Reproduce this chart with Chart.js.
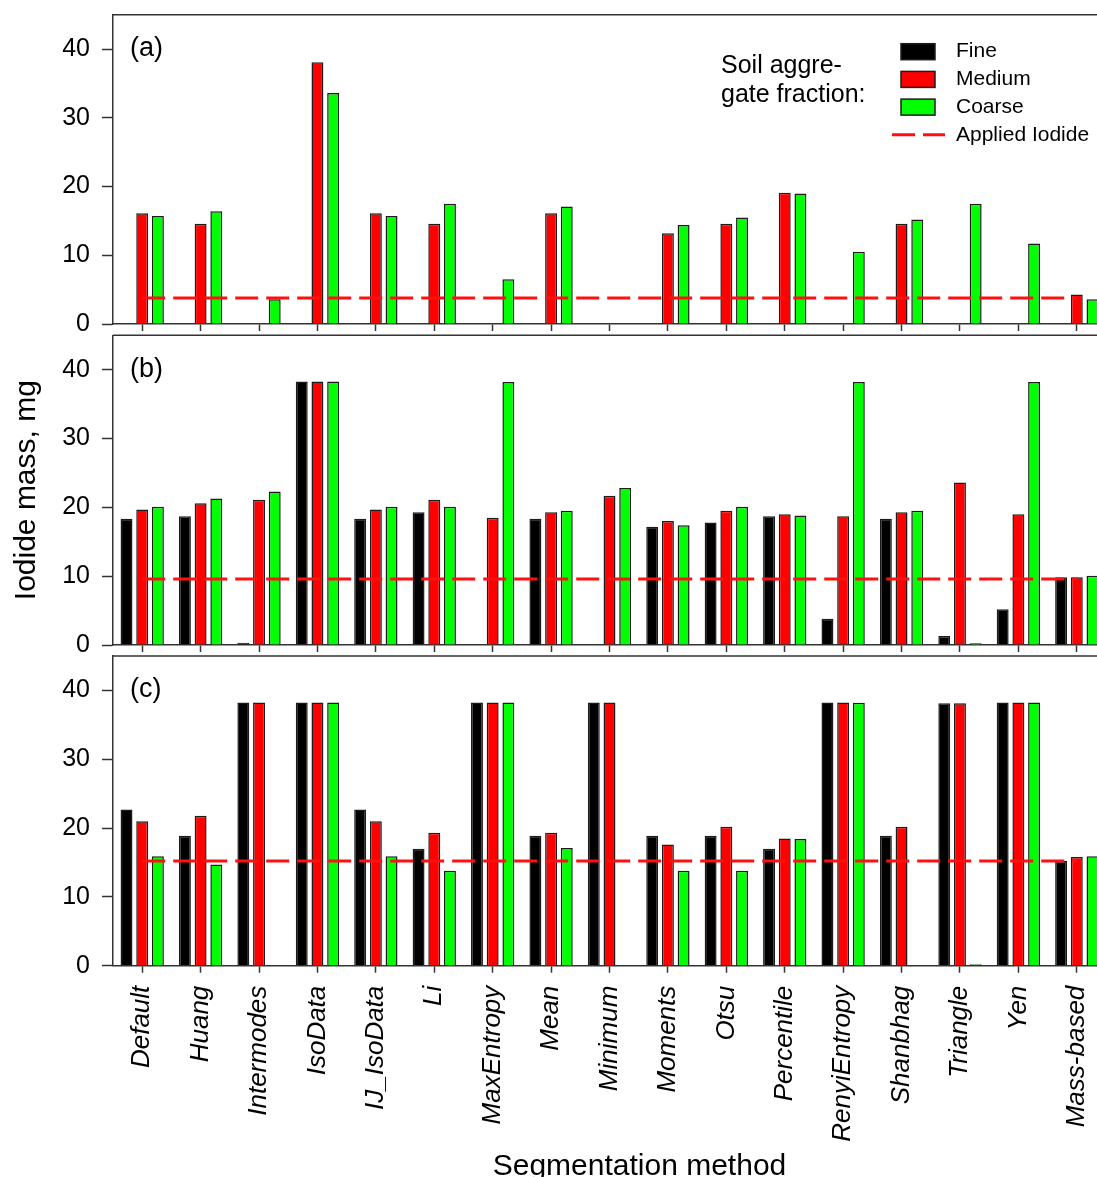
<!DOCTYPE html>
<html>
<head>
<meta charset="utf-8">
<title>Iodide mass by segmentation method</title>
<script src="https://cdn.jsdelivr.net/npm/chart.js@4.4.1/dist/chart.umd.min.js"></script>
<style>
  html, body { margin: 0; padding: 0; background: #fff; overflow: hidden; }
  #wrap { position: relative; width: 1097px; height: 1177px; overflow: hidden; }
  canvas { position: absolute; left: 0; }
</style>
</head>
<body>
<div id="wrap">
  <canvas id="panelA" width="1112" height="335" style="top:0px"></canvas>
  <canvas id="panelB" width="1112" height="326" style="top:330px"></canvas>
  <canvas id="panelC" width="1112" height="526" style="top:651px"></canvas>
</div>
<script>
/* ---- data --------------------------------------------------------- */
const methods = ['Default', 'Huang', 'Intermodes', 'IsoData', 'IJ_IsoData', 'Li', 'MaxEntropy',
  'Mean', 'Minimum', 'Moments', 'Otsu', 'Percentile', 'RenyiEntropy', 'Shanbhag', 'Triangle', 'Yen', 'Mass-based'];
const yTicks = [0, 10, 20, 30, 40];
const fractions = ['Fine', 'Medium', 'Coarse'];

// (a)
const fineA   = [null, null, null, null, null, null, null, null, null, null, null, null, null, null, null, null, null];
const mediumA = [16.1, 14.6, null, 38.1, 16.1, 14.6, null, 16.1, null, 13.2, 14.6, 19.1, null, 14.6, null, null, 4.3];
const coarseA = [15.7, 16.4, 3.6, 33.6, 15.7, 17.5, 6.5, 17.1, null, 14.4, 15.5, 19.0, 10.5, 15.2, 17.5, 11.7, 3.6];
const appliedA = 3.8;

// (b)
const fineB   = [18.35, 18.7, 0.34, 38.3, 18.35, 19.3, null, 18.35, null, 17.2, 17.8, 18.7, 3.8, 18.35, 1.3, 5.2, 9.85];
const mediumB = [19.7, 20.6, 21.1, 38.3, 19.7, 21.1, 18.5, 19.3, 21.7, 18.0, 19.5, 19.0, 18.7, 19.3, 23.6, 19.0, 9.85];
const coarseB = [20.1, 21.3, 22.3, 38.3, 20.1, 20.1, 38.2, 19.5, 22.8, 17.4, 20.1, 18.8, 38.2, 19.5, 0.24, 38.2, 10.05];
const appliedB = 9.6;

// (c)
const fineC   = [22.7, 18.9, 38.25, 38.25, 22.7, 17.0, 38.25, 18.9, 38.25, 18.9, 18.9, 17.0, 38.25, 18.9, 38.15, 38.25, 15.2];
const mediumC = [21.0, 21.8, 38.25, 38.25, 21.0, 19.3, 38.25, 19.3, 38.25, 17.6, 20.2, 18.5, 38.25, 20.2, 38.15, 38.25, 15.8];
const coarseC = [15.9, 14.7, null, 38.25, 15.9, 13.8, 38.25, 17.1, null, 13.8, 13.8, 18.4, 38.2, null, 0.2, 38.25, 15.9];
const appliedC = 15.2;

/* ---- look ---------------------------------------------------------- */
const FONT = "'Liberation Sans', Arial, sans-serif";
const COLORS = ['#000000', '#ff0000', '#00ff00'];
const EDGE = '#1c1c1c';
const AXIS = '#333333';
const DASH = [23, 8];

// top + right edge of the plot box, and the (a)/(b)/(c) tag
const framePlugin = {
  id: 'frame',
  afterDraw(chart, args, opts) {
    const { ctx, chartArea: a } = chart;
    ctx.save();
    ctx.strokeStyle = AXIS;
    ctx.lineWidth = 1.5;
    ctx.beginPath();
    ctx.moveTo(a.left, a.top);
    ctx.lineTo(a.right, a.top);
    ctx.lineTo(a.right, a.bottom);
    ctx.stroke();
    ctx.fillStyle = '#000';
    ctx.font = `27px ${FONT}`;
    ctx.textBaseline = 'middle';
    ctx.fillText(opts.tag, a.left + 17, a.top + 34);
    ctx.restore();
  }
};

// legend drawn inside panel (a)
const legendPlugin = {
  id: 'boxLegend',
  afterDraw(chart) {
    const { ctx, chartArea: a } = chart;
    const ds = chart.data.datasets;
    ctx.save();
    ctx.fillStyle = '#000';
    ctx.font = `25px ${FONT}`;
    ctx.textBaseline = 'alphabetic';
    ctx.fillText('Soil aggre-', a.left + 608, a.top + 58);
    ctx.fillText('gate fraction:', a.left + 608, a.top + 87);
    ctx.font = `21px ${FONT}`;
    ctx.textBaseline = 'middle';
    let y = a.top + 37;
    ds.forEach(d => {
      if (d.type === 'line') {
        ctx.strokeStyle = d.borderColor;
        ctx.lineWidth = 3;
        ctx.setLineDash(DASH);
        ctx.beginPath();
        ctx.moveTo(a.left + 779, y);
        ctx.lineTo(a.left + 832, y);
        ctx.stroke();
        ctx.setLineDash([]);
      } else {
        ctx.fillStyle = d.backgroundColor;
        ctx.fillRect(a.left + 788, y - 8, 34, 16);
        ctx.strokeStyle = EDGE;
        ctx.lineWidth = 1.5;
        ctx.strokeRect(a.left + 788, y - 8, 34, 16);
      }
      ctx.fillStyle = '#000';
      ctx.fillText(d.label, a.left + 843, y);
      y += 27.7;
    });
    ctx.restore();
  }
};

// x axis title, sits a little right of the plot centre as in the figure
const xTitlePlugin = {
  id: 'xTitle',
  afterDraw(chart) {
    const { ctx, chartArea: a } = chart;
    ctx.save();
    ctx.fillStyle = '#000';
    ctx.font = `30px ${FONT}`;
    ctx.textAlign = 'center';
    ctx.textBaseline = 'alphabetic';
    ctx.fillText('Segmentation method', (a.left + a.right) / 2 + 30, chart.height - 2.5);
    ctx.restore();
  }
};

// keep Chart.js from insetting the plot for half a tick label
const noLabelPad = s => { s.paddingTop = 0; s.paddingBottom = 0; s.paddingLeft = 0; s.paddingRight = 0; };

function makePanel(id, series, applied, opt) {
  const datasets = series.map((vals, i) => ({
    label: fractions[i],
    data: vals,
    backgroundColor: COLORS[i],
    borderColor: EDGE,
    borderWidth: 1.5,
    categoryPercentage: 0.806,
    barPercentage: 0.76,
    order: 1
  }));
  datasets.push({
    type: 'line',
    label: 'Applied Iodide',
    data: [{ x: methods[0], y: applied }, { x: methods[methods.length - 1], y: applied }],
    borderColor: '#ff1010',
    borderWidth: 3,
    borderDash: DASH,
    pointRadius: 0,
    fill: false,
    order: 0
  });

  const plugins = [framePlugin];
  if (opt.legend) plugins.push(legendPlugin);
  if (opt.xTitle) plugins.push(xTitlePlugin);

  return new Chart(document.getElementById(id), {
    type: 'bar',
    data: { labels: methods, datasets },
    plugins,
    options: {
      responsive: false,
      animation: false,
      layout: { padding: { top: opt.padTop, right: 6, left: 0, bottom: 0 } },
      plugins: {
        legend: { display: false },
        tooltip: { enabled: false },
        frame: { tag: opt.tag }
      },
      scales: {
        x: {
          offset: true,
          grid: { display: true, drawOnChartArea: false, offset: false, tickLength: 7, tickColor: AXIS, tickWidth: 1.5 },
          border: { display: true, color: AXIS, width: 1.5 },
          ticks: {
            display: !!opt.xLabels,
            autoSkip: false,
            minRotation: 90,
            maxRotation: 90,
            padding: 13,
            color: '#000',
            font: { family: FONT, size: 26, style: 'italic' }
          },
          afterFit: s => { s.height = opt.xHeight; noLabelPad(s); }
        },
        y: {
          min: 0,
          max: 45,
          afterBuildTicks: s => { s.ticks = yTicks.map(v => ({ value: v })); },
          grid: { display: true, drawOnChartArea: false, tickLength: 11, tickColor: AXIS, tickWidth: 1.5 },
          border: { display: true, color: AXIS, width: 1.5 },
          ticks: { padding: 12, color: '#000', font: { family: FONT, size: 25 } },
          title: {
            display: !!opt.yTitle,
            text: 'Iodide mass, mg',
            color: '#000',
            font: { family: FONT, size: 30 },
            padding: { top: 9, bottom: 0 }
          },
          afterFit: s => { s.width = 113; noLabelPad(s); }
        }
      }
    }
  });
}

makePanel('panelA', [fineA, mediumA, coarseA], appliedA,
  { tag: '(a)', padTop: 14.7, xHeight: 11, legend: true });
makePanel('panelB', [fineB, mediumB, coarseB], appliedB,
  { tag: '(b)', padTop: 5.3, xHeight: 11, yTitle: true });
makePanel('panelC', [fineC, mediumC, coarseC], appliedC,
  { tag: '(c)', padTop: 5, xHeight: 211.3, xLabels: true, xTitle: true });
</script>
</body>
</html>
